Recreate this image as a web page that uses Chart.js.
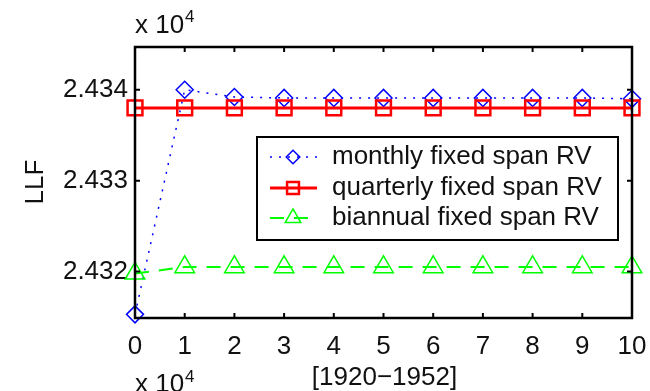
<!DOCTYPE html>
<html>
<head>
<meta charset="utf-8">
<script src="https://cdn.jsdelivr.net/npm/chart.js@4/dist/chart.umd.min.js"></script>
<style>
html,body{margin:0;padding:0;background:#fff;}
#wrap{width:650px;height:391px;position:relative;}
</style>
</head>
<body>
<div id="wrap"><canvas id="c" width="650" height="391"></canvas></div>
<script>
// ---- data ----
const xValues = [0, 1, 2, 3, 4, 5, 6, 7, 8, 9, 10];
const monthly = [2.43153, 2.43400, 2.43392, 2.43391, 2.43391, 2.43391, 2.43391, 2.43391, 2.43391, 2.43391, 2.43390];
const quarterly = [2.43380, 2.43380, 2.43380, 2.43380, 2.43380, 2.43380, 2.43380, 2.43380, 2.43380, 2.43380, 2.43380];
const biannual = [2.43198, 2.43205, 2.43205, 2.43205, 2.43205, 2.43205, 2.43205, 2.43205, 2.43205, 2.43205, 2.43205];
const seriesNames = ['monthly fixed span RV', 'quarterly fixed span RV', 'biannual fixed span RV'];
const yTickValues = [2.432, 2.433, 2.434];
const xTickValues = [0, 1, 2, 3, 4, 5, 6, 7, 8, 9, 10];
const xLabel = '[1920\u22121952]';
const yLabel = 'LLF';

const FONT = '"Liberation Sans", Arial, sans-serif';
const FS = 26;
const TXT = '#111';

function pts(arr){ return xValues.map((x,i)=>({x:x, y:arr[i]})); }

const datasets = [
  {label: seriesNames[0], data: pts(monthly), borderColor:'#0000ff', backgroundColor:'rgba(0,0,0,0)',
   borderWidth:1.5, borderDash:[2,7], pointStyle:'rectRot', pointRadius:8.5, pointBorderWidth:1.5,
   pointBorderColor:'#0000ff', pointBackgroundColor:'rgba(0,0,0,0)', clip:false, order:3},
  {label: seriesNames[1], data: pts(quarterly), borderColor:'#ff0000', backgroundColor:'rgba(0,0,0,0)',
   borderWidth:3, pointStyle:'rect', pointRadius:10.5, pointBorderWidth:2.5,
   pointBorderColor:'#ff0000', pointBackgroundColor:'rgba(0,0,0,0)', clip:false, order:1},
  {label: seriesNames[2], data: pts(biannual), borderColor:'#00ff00', backgroundColor:'rgba(0,0,0,0)',
   borderWidth:2, borderDash:[14,10], pointStyle:'triangle', pointRadius:11.3, pointBorderWidth:1.5,
   pointBorderColor:'#00ff00', pointBackgroundColor:'rgba(0,0,0,0)', clip:false, order:2}
];

const framePlugin = {
  id:'frame',
  afterDraw(chart){
    const ctx = chart.ctx, a = chart.chartArea;
    const xs = chart.scales.x, ys = chart.scales.y;
    ctx.save();
    ctx.strokeStyle = '#000';
    ctx.lineWidth = 2.5;
    ctx.strokeRect(a.left, a.top, a.right - a.left, a.bottom - a.top);
    ctx.lineWidth = 2;
    const tl = 5;
    ctx.beginPath();
    xTickValues.forEach(v=>{
      const px = xs.getPixelForValue(v);
      ctx.moveTo(px, a.bottom); ctx.lineTo(px, a.bottom - tl);
      ctx.moveTo(px, a.top); ctx.lineTo(px, a.top + tl);
    });
    yTickValues.forEach(v=>{
      const py = ys.getPixelForValue(v);
      ctx.moveTo(a.left, py); ctx.lineTo(a.left + tl, py);
      ctx.moveTo(a.right, py); ctx.lineTo(a.right - tl, py);
    });
    ctx.stroke();

    // legend
    const L = {x:257, y:137, w:361, h:103};
    ctx.fillStyle = '#fff';
    ctx.fillRect(L.x, L.y, L.w, L.h);
    ctx.lineWidth = 2;
    ctx.strokeStyle = '#000';
    ctx.strokeRect(L.x, L.y, L.w, L.h);
    const rowsY = [157, 188, 218];
    chart.data.datasets.forEach((ds, i)=>{
      const y = rowsY[i];
      ctx.save();
      ctx.strokeStyle = ds.borderColor;
      ctx.lineWidth = ds.borderWidth;
      ctx.setLineDash(ds.borderDash || []);
      ctx.beginPath(); ctx.moveTo(270, y); ctx.lineTo(317, y); ctx.stroke();
      ctx.setLineDash([]);
      ctx.strokeStyle = ds.pointBorderColor;
      ctx.fillStyle = 'rgba(0,0,0,0)';
      ctx.lineWidth = ds.pointBorderWidth;
      Chart.helpers.drawPoint(ctx, {pointStyle: ds.pointStyle, radius: ds.pointRadius*0.8, borderWidth: ds.pointBorderWidth, rotation:0}, 293, y);
      ctx.restore();
      ctx.fillStyle = TXT;
      ctx.font = FS + 'px ' + FONT;
      ctx.textBaseline = 'middle';
      ctx.textAlign = 'left';
      ctx.fillText(ds.label, 332, y);
    });

    // texts
    ctx.fillStyle = TXT;
    ctx.textBaseline = 'alphabetic';
    ctx.textAlign = 'left';
    ctx.font = FS + 'px ' + FONT;
    ctx.fillText('x 10', 135, 33);
    ctx.font = '17px ' + FONT;
    ctx.fillText('4', 185, 22);
    ctx.font = FS + 'px ' + FONT;
    ctx.fillText('x 10', 135, 392);
    ctx.font = '17px ' + FONT;
    ctx.fillText('4', 185, 382);
    ctx.font = FS + 'px ' + FONT;
    ctx.textAlign = 'center';
    ctx.fillText(xLabel, (a.left + a.right)/2 + 1, 385);
    ctx.translate(43, 182);
    ctx.rotate(-Math.PI/2);
    ctx.textBaseline = 'alphabetic';
    ctx.fillText(yLabel, 0, 0);
    ctx.restore();
  }
};

new Chart(document.getElementById('c'), {
  type:'line',
  data:{datasets: datasets},
  options:{
    responsive:false,
    animation:false,
    events:[],
    layout:{padding:{left:0, top:47, right:18, bottom:0}},
    plugins:{legend:{display:false}, tooltip:{enabled:false}},
    scales:{
      x:{type:'linear', min:0, max:10,
         grid:{display:false, drawTicks:false}, border:{display:false},
         afterBuildTicks(s){ s.ticks = xTickValues.map(v=>({value:v})); },
         afterFit(s){ s.height = 73; s.paddingLeft = 0; s.paddingRight = 0; },
         ticks:{padding:13, color:TXT, font:{family:FONT, size:FS}, maxRotation:0, autoSkip:false,
                callback:(v)=>String(v)}},
      y:{type:'linear', min:2.43149, max:2.43447,
         grid:{display:false, drawTicks:false}, border:{display:false},
         afterBuildTicks(s){ s.ticks = yTickValues.map(v=>({value:v})); },
         afterFit(s){ s.width = 135; s.paddingTop = 0; s.paddingBottom = 0; },
         ticks:{padding:7, color:TXT, font:{family:FONT, size:FS}, autoSkip:false,
                callback:(v)=>Number(v).toFixed(3)}}
    }
  },
  plugins:[framePlugin]
});
</script>
</body>
</html>
